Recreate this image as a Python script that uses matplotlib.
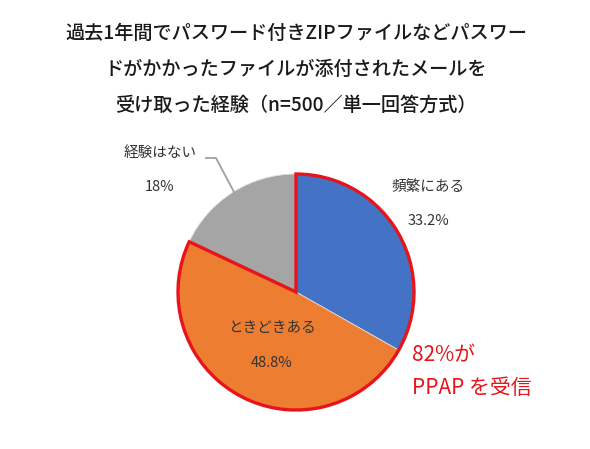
import matplotlib
matplotlib.use("Agg")
import matplotlib.pyplot as plt

plt.rcParams['font.family'] = ['Noto Sans CJK JP', 'DejaVu Sans']

title_lines = ["過去1年間でパスワード付きZIPファイルなどパスワー",
               "ドがかかったファイルが添付されたメールを",
               "受け取った経験（n=500／単一回答方式）"]
labels = ["頻繁にある", "ときどきある", "経験はない"]
values = [33.2, 48.8, 18.0]
value_text = ["33.2%", "48.8%", "18%"]
colors = ["#4472C4", "#ED7D31", "#A5A5A5"]

W, H = 590, 449
fig = plt.figure(figsize=(W / 100, H / 100), dpi=100)
ax = fig.add_axes([0, 0, 1, 1])
ax.set_xlim(0, W)
ax.set_ylim(0, H)
ax.set_aspect('equal')
ax.axis('off')

cx, cy, r = 296, H - 292, 118

ax.pie(values, colors=colors, startangle=90, counterclock=False,
       center=(cx, cy), radius=r,
       wedgeprops=dict(edgecolor='#dddddd', linewidth=0.6))

# red outline round the "received" share
received = values[0] + values[1]
outline, _ = ax.pie([received, 100 - received], startangle=90, counterclock=False,
                    center=(cx, cy), radius=r,
                    colors=['none', 'none'])
outline[0].set_edgecolor('#E8141B')
outline[0].set_linewidth(2.4)
outline[0].set_zorder(5)
outline[1].set_visible(False)

# restore limits after pie
ax.set_xlim(0, W)
ax.set_ylim(0, H)

for i, line in enumerate(title_lines):
    ax.text(W / 2 + 1, H - (33 + 36 * i), line, ha='center', va='center',
            fontsize=13.8, fontweight='medium', color='#1a1a1a')

tc = '#333333'
ax.text(428, H - 187, labels[0], ha='center', va='center', fontsize=10.5, color=tc)
ax.text(428, H - 221, value_text[0], ha='center', va='center', fontsize=10.5, color=tc)
ax.text(272, H - 328, labels[1], ha='center', va='center', fontsize=10.5, color=tc)
ax.text(272, H - 363, value_text[1], ha='center', va='center', fontsize=10.5, color=tc)
ax.text(160, H - 153, labels[2], ha='center', va='center', fontsize=10.5, color=tc)
ax.text(160, H - 187, value_text[2], ha='center', va='center', fontsize=10.5, color=tc)
ax.plot([206, 216, 234], [H - 158, H - 158, H - 192], color='#a0a0a0', lw=1.3)

ax.text(412, H - 355, "82%が", ha='left', va='center', fontsize=15,
        color='#E8141B')
ax.text(412, H - 388, "PPAP を受信", ha='left', va='center', fontsize=15,
        color='#E8141B')

fig.savefig("out.png", dpi=100)
